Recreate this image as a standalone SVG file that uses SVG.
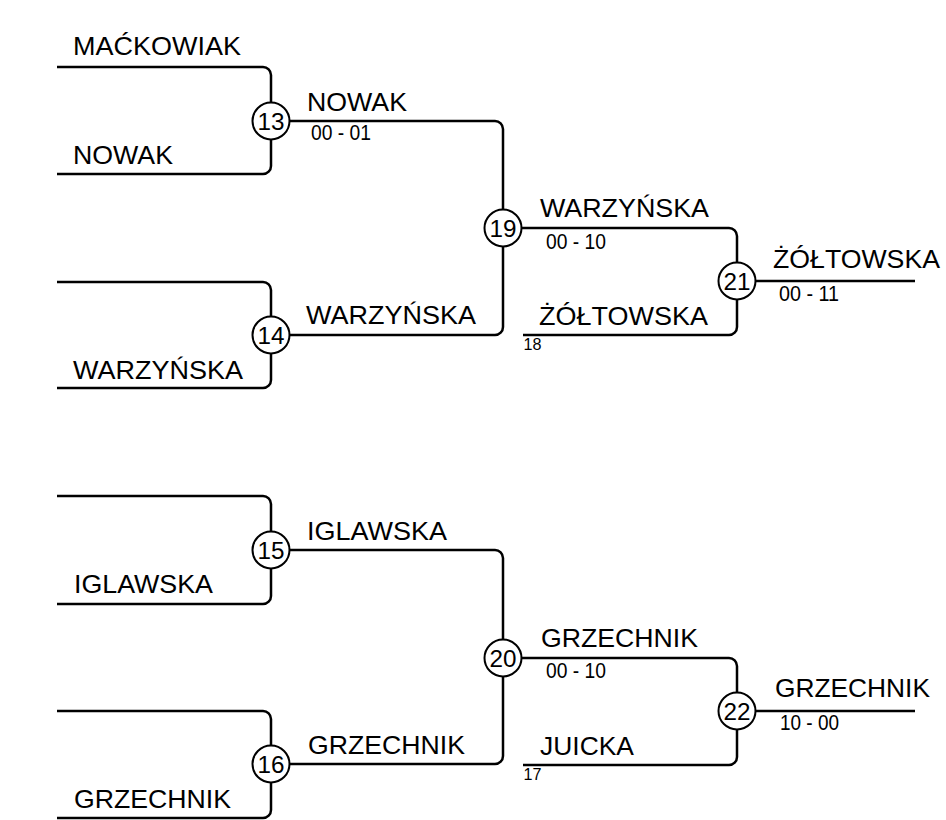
<svg xmlns="http://www.w3.org/2000/svg" width="946" height="820" viewBox="0 0 946 820">
<style>
.ln{fill:none;stroke:#000;stroke-width:2.5;stroke-linecap:butt}
.nd{fill:#fff;stroke:#000;stroke-width:2}
.num{font-family:"Liberation Sans",Arial,sans-serif;font-size:24px;fill:#000;text-anchor:middle}
.nm{font-family:"Liberation Sans",Arial,sans-serif;font-size:26.5px;fill:#000}
.sc{font-family:"Liberation Sans",Arial,sans-serif;font-size:22px;fill:#000}
.sd{font-family:"Liberation Sans",Arial,sans-serif;font-size:16.5px;fill:#000}
</style>
<rect width="946" height="820" fill="#fff"/>
<g id="connectors">
<path class="ln" d="M57,67 H263 A8,8 0 0 1 271,75 V166 A8,8 0 0 1 263,174 H57"/>
<path class="ln" d="M57,282 H263 A8,8 0 0 1 271,290 V380 A8,8 0 0 1 263,388 H57"/>
<path class="ln" d="M271,121 H495 A8,8 0 0 1 503,129 V327 A8,8 0 0 1 495,335 H271"/>
<path class="ln" d="M503,228 H729 A8,8 0 0 1 737,236 V327 A8,8 0 0 1 729,335 H523"/>
<path class="ln" d="M737,281 H915"/>
<path class="ln" d="M57,496 H263 A8,8 0 0 1 271,504 V596 A8,8 0 0 1 263,604 H57"/>
<path class="ln" d="M57,711 H263 A8,8 0 0 1 271,719 V810 A8,8 0 0 1 263,818 H57"/>
<path class="ln" d="M271,550 H495 A8,8 0 0 1 503,558 V756 A8,8 0 0 1 495,764 H271"/>
<path class="ln" d="M503,658 H729 A8,8 0 0 1 737,666 V757 A8,8 0 0 1 729,765 H523"/>
<path class="ln" d="M737,711 H915"/>
</g>
<g id="node13"><circle class="nd" cx="271" cy="121" r="18.5"/><text class="num" x="271" y="129.5" textLength="27" lengthAdjust="spacingAndGlyphs">13</text></g>
<g id="node14"><circle class="nd" cx="271" cy="335" r="18.5"/><text class="num" x="271" y="343.5" textLength="27" lengthAdjust="spacingAndGlyphs">14</text></g>
<g id="node19"><circle class="nd" cx="503" cy="228" r="18.5"/><text class="num" x="503" y="236.5" textLength="27" lengthAdjust="spacingAndGlyphs">19</text></g>
<g id="node21"><circle class="nd" cx="737" cy="281" r="18.5"/><text class="num" x="737" y="289.5" textLength="27" lengthAdjust="spacingAndGlyphs">21</text></g>
<g id="node15"><circle class="nd" cx="271" cy="550" r="18.5"/><text class="num" x="271" y="558.5" textLength="27" lengthAdjust="spacingAndGlyphs">15</text></g>
<g id="node16"><circle class="nd" cx="271" cy="764" r="18.5"/><text class="num" x="271" y="772.5" textLength="27" lengthAdjust="spacingAndGlyphs">16</text></g>
<g id="node20"><circle class="nd" cx="503" cy="658" r="18.5"/><text class="num" x="503" y="666.5" textLength="27" lengthAdjust="spacingAndGlyphs">20</text></g>
<g id="node22"><circle class="nd" cx="737" cy="711" r="18.5"/><text class="num" x="737" y="719.5" textLength="27" lengthAdjust="spacingAndGlyphs">22</text></g>
<g id="labels">
<text class="nm" x="73" y="55" textLength="168" lengthAdjust="spacingAndGlyphs">MAĆKOWIAK</text>
<text class="nm" x="73" y="163.5" textLength="100" lengthAdjust="spacingAndGlyphs">NOWAK</text>
<text class="nm" x="307" y="111" textLength="100" lengthAdjust="spacingAndGlyphs">NOWAK</text>
<text class="sc" x="311" y="140" textLength="60" lengthAdjust="spacingAndGlyphs">00 - 01</text>
<text class="nm" x="73" y="379" textLength="170" lengthAdjust="spacingAndGlyphs">WARZYŃSKA</text>
<text class="nm" x="306" y="324" textLength="170" lengthAdjust="spacingAndGlyphs">WARZYŃSKA</text>
<text class="nm" x="540" y="217" textLength="169" lengthAdjust="spacingAndGlyphs">WARZYŃSKA</text>
<text class="sc" x="546" y="249" textLength="60" lengthAdjust="spacingAndGlyphs">00 - 10</text>
<text class="nm" x="539" y="325" textLength="169" lengthAdjust="spacingAndGlyphs">ŻÓŁTOWSKA</text>
<text class="sd" x="523.5" y="350" textLength="18" lengthAdjust="spacingAndGlyphs">18</text>
<text class="nm" x="773" y="268" textLength="167" lengthAdjust="spacingAndGlyphs">ŻÓŁTOWSKA</text>
<text class="sc" x="779" y="301" textLength="60" lengthAdjust="spacingAndGlyphs">00 - 11</text>
<text class="nm" x="307" y="540" textLength="140" lengthAdjust="spacingAndGlyphs">IGLAWSKA</text>
<text class="nm" x="74" y="593" textLength="139" lengthAdjust="spacingAndGlyphs">IGLAWSKA</text>
<text class="nm" x="308" y="754" textLength="157" lengthAdjust="spacingAndGlyphs">GRZECHNIK</text>
<text class="nm" x="74" y="808" textLength="157" lengthAdjust="spacingAndGlyphs">GRZECHNIK</text>
<text class="nm" x="541" y="647" textLength="157" lengthAdjust="spacingAndGlyphs">GRZECHNIK</text>
<text class="sc" x="546" y="678" textLength="60" lengthAdjust="spacingAndGlyphs">00 - 10</text>
<text class="nm" x="540" y="755" textLength="94" lengthAdjust="spacingAndGlyphs">JUICKA</text>
<text class="sd" x="523.5" y="780" textLength="18" lengthAdjust="spacingAndGlyphs">17</text>
<text class="nm" x="775" y="697" textLength="155" lengthAdjust="spacingAndGlyphs">GRZECHNIK</text>
<text class="sc" x="780" y="730" textLength="59" lengthAdjust="spacingAndGlyphs">10 - 00</text>
</g>
</svg>
